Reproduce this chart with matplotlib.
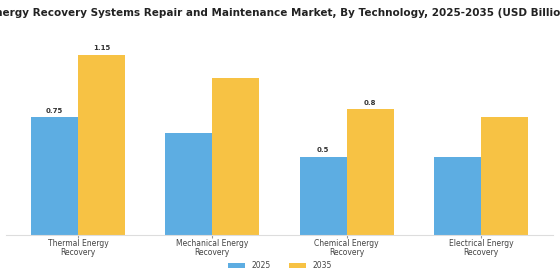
import matplotlib
matplotlib.use("Agg")
import matplotlib.pyplot as plt
import numpy as np

categories = ["Thermal Energy\nRecovery", "Mechanical Energy\nRecovery",
              "Chemical Energy\nRecovery", "Electrical Energy\nRecovery"]
values_2025 = [0.75, 0.65, 0.5, 0.5]
values_2035 = [1.15, 1.0, 0.8, 0.75]
labeled = [0, 2]
series_names = ["2025", "2035"]
title = "Energy Recovery Systems Repair and Maintenance Market, By Technology, 2025-2035 (USD Billion)"

c25 = "#5DADE2"
c35 = "#F7C244"

fig = plt.figure(figsize=(5.6, 2.8), dpi=100)
ax = fig.add_axes([0.0, 0.16, 1.0, 0.73])
x = np.arange(len(categories))
w = 0.35
b1 = ax.bar(x - w/2, values_2025, w, color=c25, label=series_names[0])
b2 = ax.bar(x + w/2, values_2035, w, color=c35, label=series_names[1])
for i in labeled:
    ax.text(x[i] - w/2, values_2025[i] + 0.02, f"{values_2025[i]:g}", ha="center", va="bottom",
            fontsize=5, fontweight="bold", color="#333333")
    ax.text(x[i] + w/2, values_2035[i] + 0.02, f"{values_2035[i]:g}", ha="center", va="bottom",
            fontsize=5, fontweight="bold", color="#333333")
ax.set_xlim(-0.535, 3.535)
ax.set_ylim(0, 1.3)
ax.set_position([6/560, 45/280, (553-6)/560, (235-31)/280])
ax.set_xticks(x)
ax.set_xticklabels(categories, fontsize=5.5, color="#444444", linespacing=1.0)
ax.tick_params(axis="x", length=2, color="#999999", pad=1)
ax.set_yticks([])
for s in ["top", "right", "left"]:
    ax.spines[s].set_visible(False)
ax.spines["bottom"].set_color("#dddddd")
fig.text(0.5, 0.955, title, ha="center", va="center", fontsize=7.45, fontweight="bold", color="#222222")
fig.legend(handles=[b1, b2], loc="center", bbox_to_anchor=(0.5, 0.05), ncol=2, frameon=False,
           fontsize=5.5, handlelength=2.2, handleheight=0.6, columnspacing=2.5, labelcolor="#444444")
fig.savefig("out.png", dpi=100)
